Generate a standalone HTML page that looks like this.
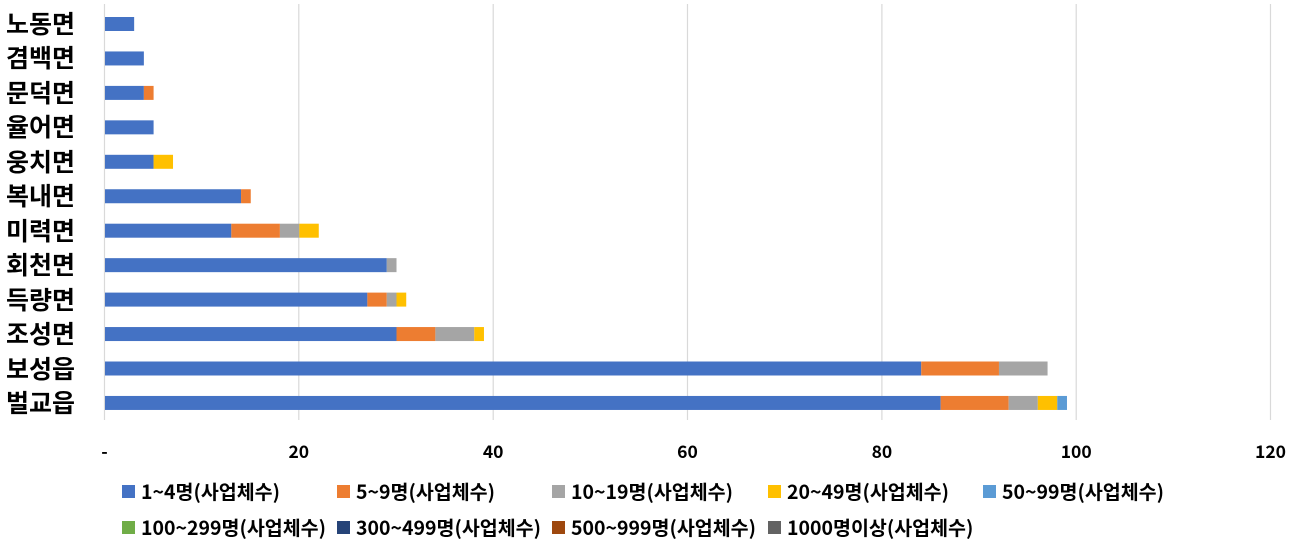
<!DOCTYPE html>
<html><head><meta charset="utf-8"><style>
body{margin:0;background:#fff;}
svg{display:block;font-family:"Liberation Sans","Noto Sans CJK KR",sans-serif;}
.c{font-size:25px;font-weight:bold;fill:#000;font-family:"Noto Sans CJK KR",sans-serif;}
.t{font-size:17.5px;fill:#000;font-family:"Noto Sans CJK KR",sans-serif;font-weight:600;}
.l{font-size:19.5px;fill:#000;font-family:"Noto Sans CJK KR",sans-serif;font-weight:600;}
</style></head><body>
<svg width="1308" height="555" viewBox="0 0 1308 555">
<g stroke="#d9d9d9" stroke-width="1.2">
<line x1="104.5" y1="4" x2="104.5" y2="420"/>
<line x1="298.8" y1="4" x2="298.8" y2="420"/>
<line x1="493.2" y1="4" x2="493.2" y2="420"/>
<line x1="687.5" y1="4" x2="687.5" y2="420"/>
<line x1="881.9" y1="4" x2="881.9" y2="420"/>
<line x1="1076.2" y1="4" x2="1076.2" y2="420"/>
<line x1="1270.5" y1="4" x2="1270.5" y2="420"/>
</g>
<g>
<rect x="105" y="17" width="29.15" height="14" fill="#4472c4"/>
<rect x="105" y="51.45" width="38.87" height="14" fill="#4472c4"/>
<rect x="105" y="85.9" width="38.87" height="14" fill="#4472c4"/>
<rect x="143.87" y="85.9" width="9.72" height="14" fill="#ed7d31"/>
<rect x="105" y="120.35" width="48.59" height="14" fill="#4472c4"/>
<rect x="105" y="154.8" width="48.59" height="14" fill="#4472c4"/>
<rect x="153.59" y="154.8" width="19.43" height="14" fill="#ffc000"/>
<rect x="105" y="189.25" width="136.04" height="14" fill="#4472c4"/>
<rect x="241.04" y="189.25" width="9.72" height="14" fill="#ed7d31"/>
<rect x="105" y="223.7" width="126.32" height="14" fill="#4472c4"/>
<rect x="231.32" y="223.7" width="48.59" height="14" fill="#ed7d31"/>
<rect x="279.91" y="223.7" width="19.43" height="14" fill="#a5a5a5"/>
<rect x="299.34" y="223.7" width="19.43" height="14" fill="#ffc000"/>
<rect x="105" y="258.15" width="281.79" height="14" fill="#4472c4"/>
<rect x="386.79" y="258.15" width="9.72" height="14" fill="#a5a5a5"/>
<rect x="105" y="292.6" width="262.36" height="14" fill="#4472c4"/>
<rect x="367.36" y="292.6" width="19.43" height="14" fill="#ed7d31"/>
<rect x="386.79" y="292.6" width="9.72" height="14" fill="#a5a5a5"/>
<rect x="396.51" y="292.6" width="9.72" height="14" fill="#ffc000"/>
<rect x="105" y="327.05" width="291.51" height="14" fill="#4472c4"/>
<rect x="396.51" y="327.05" width="38.87" height="14" fill="#ed7d31"/>
<rect x="435.38" y="327.05" width="38.87" height="14" fill="#a5a5a5"/>
<rect x="474.25" y="327.05" width="9.72" height="14" fill="#ffc000"/>
<rect x="105" y="361.5" width="816.23" height="14" fill="#4472c4"/>
<rect x="921.23" y="361.5" width="77.74" height="14" fill="#ed7d31"/>
<rect x="998.97" y="361.5" width="48.59" height="14" fill="#a5a5a5"/>
<rect x="105" y="395.95" width="835.66" height="14" fill="#4472c4"/>
<rect x="940.66" y="395.95" width="68.02" height="14" fill="#ed7d31"/>
<rect x="1008.68" y="395.95" width="29.15" height="14" fill="#a5a5a5"/>
<rect x="1037.83" y="395.95" width="19.43" height="14" fill="#ffc000"/>
<rect x="1057.26" y="395.95" width="9.72" height="14" fill="#5b9bd5"/>
</g>
<g class="t" text-anchor="middle">
<text x="104.5" y="458">-</text>
<text x="298.8" y="458">20</text>
<text x="493.2" y="458">40</text>
<text x="687.5" y="458">60</text>
<text x="881.9" y="458">80</text>
<text x="1076.2" y="458">100</text>
<text x="1270.5" y="458">120</text>
</g>
<g class="l">
<rect x="122" y="485" width="13" height="13" fill="#4472c4"/><text x="141" y="499">1~4명(사업체수)</text>
<rect x="337" y="485" width="13" height="13" fill="#ed7d31"/><text x="356" y="499">5~9명(사업체수)</text>
<rect x="552" y="485" width="13" height="13" fill="#a5a5a5"/><text x="571" y="499">10~19명(사업체수)</text>
<rect x="768" y="485" width="13" height="13" fill="#ffc000"/><text x="787" y="499">20~49명(사업체수)</text>
<rect x="983" y="485" width="13" height="13" fill="#5b9bd5"/><text x="1002" y="499">50~99명(사업체수)</text>
<rect x="122" y="521" width="13" height="13" fill="#70ad47"/><text x="141" y="535">100~299명(사업체수)</text>
<rect x="337" y="521" width="13" height="13" fill="#264478"/><text x="356" y="535">300~499명(사업체수)</text>
<rect x="552" y="521" width="13" height="13" fill="#9e480e"/><text x="571" y="535">500~999명(사업체수)</text>
<rect x="768" y="521" width="13" height="13" fill="#636363"/><text x="787" y="535">1000명이상(사업체수)</text>
</g>
<g class="c">
<text x="6" y="33">노동면</text>
<text x="6" y="67">겸백면</text>
<text x="6" y="102">문덕면</text>
<text x="6" y="136">율어면</text>
<text x="6" y="171">웅치면</text>
<text x="6" y="205">복내면</text>
<text x="6" y="240">미력면</text>
<text x="6" y="274">회천면</text>
<text x="6" y="309">득량면</text>
<text x="6" y="343">조성면</text>
<text x="6" y="378">보성읍</text>
<text x="6" y="412">벌교읍</text>
</g>
</svg>
</body></html>
